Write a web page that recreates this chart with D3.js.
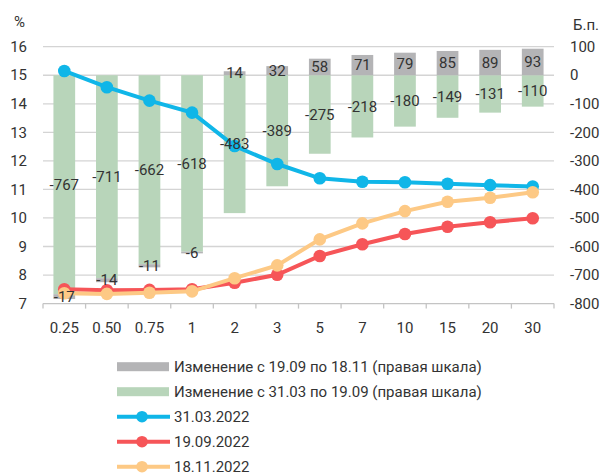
<!DOCTYPE html>
<html>
<head>
<meta charset="utf-8">
<script src="https://cdn.jsdelivr.net/npm/d3@7"></script>
<style>
  body { margin: 0; background: #fff; }
  svg { font-family: Roboto, "Noto Sans", sans-serif; }
</style>
</head>
<body>
<div id="chart"></div>
<script>
const terms = ["0.25", "0.50", "0.75", "1", "2", "3", "5", "7", "10", "15", "20", "30"];
const chgMarSep = [-767, -711, -662, -618, -483, -389, -275, -218, -180, -149, -131, -110];
const chgSepNov = [-17, -14, -11, -6, 14, 32, 58, 71, 79, 85, 89, 93];
const curveMar = [15.15, 14.58, 14.11, 13.69, 12.52, 11.89, 11.39, 11.27, 11.25, 11.2, 11.15, 11.1];
const curveSep = [7.5, 7.47, 7.48, 7.5, 7.73, 8.01, 8.67, 9.08, 9.44, 9.69, 9.85, 9.99];
const curveNov = [7.36, 7.34, 7.38, 7.43, 7.89, 8.34, 9.25, 9.81, 10.24, 10.57, 10.71, 10.9];
const leftTicks = [7, 8, 9, 10, 11, 12, 13, 14, 15, 16];
const rightTicks = [-800, -700, -600, -500, -400, -300, -200, -100, 0, 100];

const width = 605, height = 475;
const plotLeft = 43, plotRight = 554, plotTop = 46.7, plotBottom = 303.6;
const fs = 15;

const svg = d3.select("#chart").append("svg")
  .attr("width", width)
  .attr("height", height);

const x = d3.scaleBand().domain(terms).range([plotLeft, plotRight]);
const yL = d3.scaleLinear().domain([7, 16]).range([plotBottom, plotTop]);
const yR = d3.scaleLinear().domain([-800, 100]).range([plotBottom, plotTop]);

// gridlines
svg.append("g").selectAll("line")
  .data(leftTicks.slice(1))
  .enter().append("line")
  .attr("x1", plotLeft).attr("x2", plotRight)
  .attr("y1", d => yL(d)).attr("y2", d => yL(d))
  .attr("stroke", "#d4d4d4").attr("stroke-width", 1.3);

// bars
const bw = x.bandwidth() * 0.51;
const bars = svg.append("g");
terms.forEach((t, i) => {
  const cx = x(t) + x.bandwidth() / 2;
  const g = chgMarSep[i];
  const s = chgSepNov[i];
  bars.append("rect")
    .attr("x", cx - bw / 2).attr("width", bw)
    .attr("y", yR(0)).attr("height", yR(g) - yR(0))
    .attr("fill", "#b8d5ba");
  let y0, y1;
  if (s < 0) { y0 = yR(g); y1 = yR(g + s); } else { y0 = yR(s); y1 = yR(0); }
  bars.append("rect")
    .attr("x", cx - bw / 2).attr("width", bw)
    .attr("y", y0).attr("height", y1 - y0)
    .attr("fill", "#b4b4b6");
});

// axis line and ticks
svg.append("line")
  .attr("x1", plotLeft).attr("x2", plotRight)
  .attr("y1", plotBottom).attr("y2", plotBottom)
  .attr("stroke", "#c4c4c4").attr("stroke-width", 1.3);
svg.append("g").selectAll("line")
  .data(d3.range(terms.length + 1))
  .enter().append("line")
  .attr("x1", i => plotLeft + i * x.step()).attr("x2", i => plotLeft + i * x.step())
  .attr("y1", plotBottom).attr("y2", plotBottom + 5)
  .attr("stroke", "#c4c4c4").attr("stroke-width", 1.3);

const txt = "#333";
svg.append("g").selectAll("text")
  .data(terms)
  .enter().append("text")
  .attr("x", d => x(d) + x.bandwidth() / 2)
  .attr("y", 328)
  .attr("dy", "0.35em")
  .attr("text-anchor", "middle")
  .attr("font-size", fs).attr("fill", txt)
  .text(d => d);

svg.append("g").selectAll("text")
  .data(leftTicks)
  .enter().append("text")
  .attr("x", 27).attr("y", d => yL(d))
  .attr("dy", "0.35em").attr("text-anchor", "end")
  .attr("font-size", fs).attr("fill", txt)
  .text(d => d);

svg.append("g").selectAll("text")
  .data(rightTicks)
  .enter().append("text")
  .attr("x", 570).attr("y", d => yR(d))
  .attr("dy", "0.35em").attr("text-anchor", "start")
  .attr("font-size", fs).attr("fill", txt)
  .text(d => d);

svg.append("text").attr("x", 14).attr("y", 22).attr("dy", "0.35em")
  .attr("font-size", fs).attr("fill", txt).text("%");
svg.append("text").attr("x", 573).attr("y", 25).attr("dy", "0.35em")
  .attr("font-size", fs).attr("fill", txt).text("Б.п.");

// lines
const series = [
  { name: "31.03.2022", values: curveMar, color: "#10b6e8" },
  { name: "19.09.2022", values: curveSep, color: "#f65558" },
  { name: "18.11.2022", values: curveNov, color: "#fdc985" }
];
const line = d3.line()
  .x((d, i) => x(terms[i]) + x.bandwidth() / 2)
  .y(d => yL(d));
series.forEach(s => {
  const g = svg.append("g");
  g.append("path").datum(s.values)
    .attr("d", line).attr("fill", "none")
    .attr("stroke", s.color).attr("stroke-width", 4);
  g.selectAll("circle").data(s.values).enter().append("circle")
    .attr("cx", (d, i) => x(terms[i]) + x.bandwidth() / 2)
    .attr("cy", d => yL(d)).attr("r", 6.3)
    .attr("fill", s.color);
});

// bar labels
const labels = svg.append("g").attr("font-size", fs).attr("fill", txt).attr("text-anchor", "middle");
terms.forEach((t, i) => {
  const cx = x(t) + x.bandwidth() / 2;
  const g = chgMarSep[i], s = chgSepNov[i];
  labels.append("text").attr("x", cx).attr("y", yR(g / 2)).attr("dy", "0.35em").text(g);
  const sy = s < 0 ? yR(g + s / 2) : yR(s / 2);
  labels.append("text").attr("x", cx).attr("y", sy).attr("dy", "0.35em").text(s);
});

// legend
const legend = svg.append("g").attr("font-size", fs).attr("fill", txt);
const items = [
  { label: "Изменение с 19.09 по 18.11 (правая шкала)", type: "bar", color: "#b4b4b6" },
  { label: "Изменение с 31.03 по 19.09 (правая шкала)", type: "bar", color: "#b8d5ba" },
  ...series.map(s => ({ label: s.name, type: "line", color: s.color }))
];
items.forEach((it, i) => {
  const cy = 366.7 + i * 25;
  if (it.type === "bar") {
    legend.append("rect").attr("x", 117).attr("y", cy - 4.5)
      .attr("width", 52).attr("height", 9).attr("fill", it.color);
  } else {
    legend.append("line").attr("x1", 117).attr("x2", 170)
      .attr("y1", cy).attr("y2", cy)
      .attr("stroke", it.color).attr("stroke-width", 4);
    legend.append("circle").attr("cx", 142).attr("cy", cy).attr("r", 5.8).attr("fill", it.color);
  }
  legend.append("text").attr("x", 174).attr("y", cy).attr("dy", "0.35em").text(it.label);
});
</script>
</body>
</html>
